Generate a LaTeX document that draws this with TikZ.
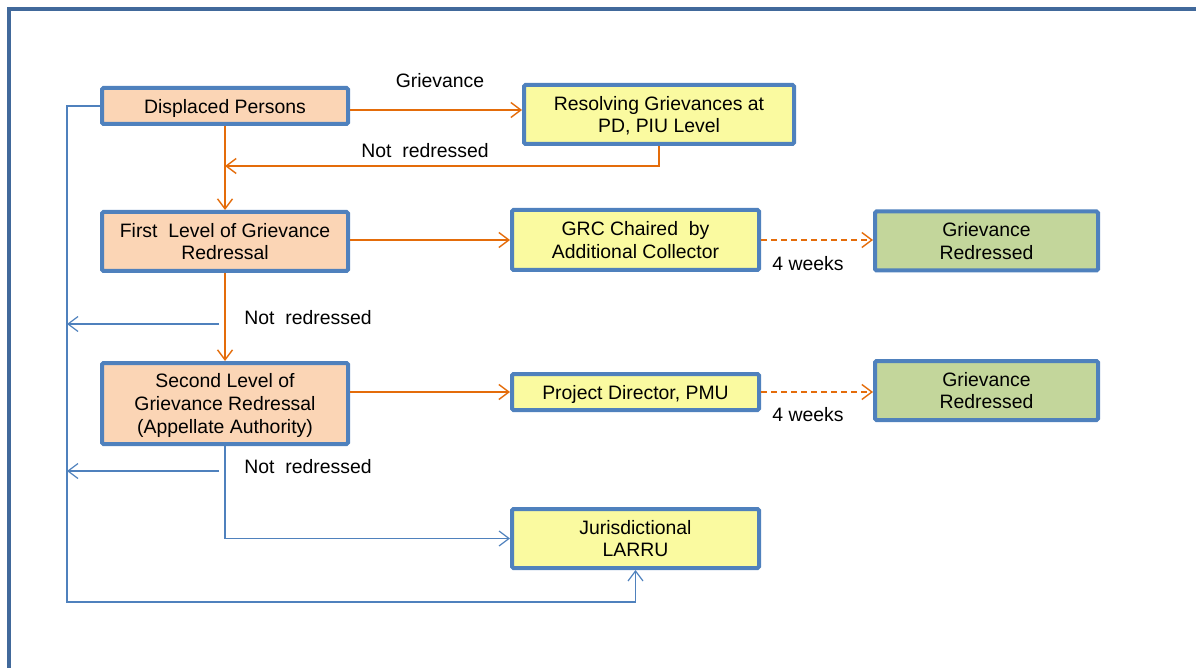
\documentclass[tikz,border=0pt]{standalone}
\usepackage{fontspec}
\setmainfont{Liberation Sans}
\usetikzlibrary{arrows.meta}
\definecolor{frameblue}{RGB}{65,105,155}
\definecolor{boxblue}{RGB}{79,129,189}
\definecolor{flow}{RGB}{228,108,10}
\definecolor{peach}{RGB}{251,213,181}
\definecolor{lemon}{RGB}{250,250,160}
\definecolor{sage}{RGB}{195,214,155}
\begin{document}
\begin{tikzpicture}[x=1pt,y=-1pt,font=\fontsize{19.4}{22.7}\selectfont,
  box/.style={draw=boxblue,line width=4pt,rounded corners=1.5pt,align=center,inner sep=0pt,text depth=0pt},
  lvl/.style={box,fill=peach,minimum width=246pt},
  mid/.style={box,fill=lemon,minimum width=247pt},
  done/.style={box,fill=sage,minimum width=223pt,minimum height=59pt},
  flowline/.style={draw=flow,line width=1.4pt,-{Straight Barb[length=10pt,width=15pt]}},
  loopline/.style={draw=boxblue,line width=1.2pt,-{Straight Barb[length=10pt,width=15pt]}},
  lbl/.style={inner sep=0pt}]
\useasboundingbox (0,0) rectangle (1196,668);
\draw[frameblue,line width=3.5pt] (9,700) -- (9,9) -- (1220,9);
% boxes
\node[lvl,minimum height=36pt] (dp) at (225,106) {Displaced Persons};
\node[box,fill=lemon,minimum width=270pt,minimum height=59pt] (res) at (659,114.5) {Resolving Grievances at\\PD, PIU Level};
\node[lvl,minimum height=59pt] (first) at (225,241.5) {First\ \ Level of Grievance\\Redressal};
\node[mid,minimum height=60pt] (grc) at (635.5,240) {GRC Chaired\ \ by\\Additional Collector};
\node[done] (gr1) at (986.5,241) {Grievance\\Redressed};
\node[lvl,minimum height=81pt] (second) at (225,403.5) {Second Level of\\Grievance Redressal\\(Appellate Authority)};
\node[mid,minimum height=36pt] (pd) at (635.5,392) {Project Director, PMU};
\node[done] (gr2) at (986.5,390.5) {Grievance\\Redressed};
\node[mid,minimum height=59pt] (jur) at (635.5,538.5) {Jurisdictional\\LARRU};
% labels
\node[lbl] (lgrv) at (440,81) {Grievance};
\node[lbl] (lnr1) at (425,151) {Not\ \ redressed};
\node[lbl] (lnr2) at (308,318) {Not\ \ redressed};
\node[lbl] (lnr3) at (308,467) {Not\ \ redressed};
\node[lbl] (lwk1) at (808,264) {4 weeks};
\node[lbl] (lwk2) at (808,415) {4 weeks};
% helper points
\coordinate (join) at (225,166);
\coordinate (corner) at (67,602);
\coordinate (n1) at (219,324);
\coordinate (n2) at (219,471);
% orange flow
\draw[flowline] ([yshift=-4pt]dp.east) -- ([yshift=-4pt]dp.east -| res.west);
\draw[flowline] (res.south) |- (join);
\draw[flowline] (dp.south) -- (first.north);
\draw[flowline] (grc.west -| first.east) -- (grc.west);
\draw[flowline] (first.south) -- (second.north);
\draw[flowline] (pd.west -| second.east) -- (pd.west);
\draw[flowline,dash pattern=on 6pt off 4pt] (grc.east) -- (grc.east -| gr1.west);
\draw[flowline,dash pattern=on 6pt off 4pt] (pd.east) -- (pd.east -| gr2.west);
% blue loops
\draw[loopline] (n1) -- (n1 -| corner);
\draw[loopline] (n2) -- (n2 -| corner);
\draw[loopline] (second.south) |- (jur.west);
\draw[loopline] (dp.west) -| (corner) -| (jur.south);
\end{tikzpicture}
\end{document}
